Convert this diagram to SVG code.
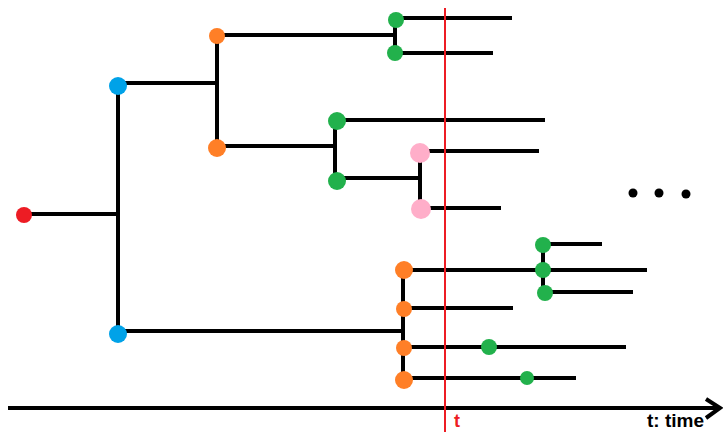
<svg xmlns="http://www.w3.org/2000/svg" width="723" height="432" viewBox="0 0 723 432">
  <style>
    .edge { stroke: #000; stroke-width: 4; fill: none; stroke-linecap: butt; }
    .red { fill: #ed1c24; }
    .blue { fill: #00a2e8; }
    .orange { fill: #ff7f27; }
    .green { fill: #22b14c; }
    .pink { fill: #ffaec9; }
    .lbl { font-family: "Liberation Sans", Arial, sans-serif; font-weight: bold; }
  </style>
  <rect width="723" height="432" fill="#fff"/>

  <!-- branches -->
  <g id="connectors">
    <path class="edge" d="M24 214 H118 M118 85 V334 M118 83 H217 M217 36 V148"/>
    <path class="edge" d="M217 35 H395 M395 20 V53 M396 18 H512 M395 53 H493"/>
    <path class="edge" d="M217 146 H335 M335 121 V181 M337 120 H545 M337 178 H420 M420 153 V209 M420 151 H539 M421 208 H501"/>
    <path class="edge" d="M118 331 H403 M403 270 V380 M404 270 H647 M404 308 H513 M404 347 H626 M404 378 H576"/>
    <path class="edge" d="M543 245 V293 M543 244 H602 M545 292 H633"/>
  </g>

  <!-- time axis -->
  <g id="axis">
    <path class="edge" d="M8 408 H720"/>
    <path class="edge" d="M706 399 L720 408 L706 418" stroke-linejoin="miter"/>
    <text class="lbl" x="647" y="427" font-size="19" fill="#000">t: time</text>
  </g>

  <!-- current time marker -->
  <g id="time-marker">
    <line x1="445" y1="8" x2="445" y2="432" stroke="#ed1c24" stroke-width="2"/>
    <text class="lbl" x="454" y="427" font-size="18" fill="#ed1c24">t</text>
  </g>

  <g id="root"><circle class="red" cx="24" cy="215" r="8"/></g>
  <g id="b1"><circle class="blue" cx="118" cy="86" r="9"/></g>
  <g id="b2"><circle class="blue" cx="118" cy="334" r="9"/></g>
  <g id="o1"><circle class="orange" cx="217" cy="36" r="8"/></g>
  <g id="o2"><circle class="orange" cx="217" cy="148" r="9"/></g>
  <g id="g1"><circle class="green" cx="396" cy="20" r="8"/></g>
  <g id="g2"><circle class="green" cx="395" cy="53" r="8"/></g>
  <g id="g3"><circle class="green" cx="337" cy="121" r="9"/></g>
  <g id="g4"><circle class="green" cx="337" cy="181" r="9"/></g>
  <g id="p1"><circle class="pink" cx="420" cy="153" r="10"/></g>
  <g id="p2"><circle class="pink" cx="421" cy="209" r="10"/></g>
  <g id="o3"><circle class="orange" cx="404" cy="270" r="9"/></g>
  <g id="o4"><circle class="orange" cx="404" cy="309" r="8"/></g>
  <g id="o5"><circle class="orange" cx="404" cy="348" r="8"/></g>
  <g id="o6"><circle class="orange" cx="404" cy="380" r="9"/></g>
  <g id="g5"><circle class="green" cx="543" cy="245" r="8"/></g>
  <g id="g6"><circle class="green" cx="543" cy="270" r="8"/></g>
  <g id="g7"><circle class="green" cx="545" cy="293" r="8"/></g>
  <g id="g8"><circle class="green" cx="489" cy="347" r="8"/></g>
  <g id="g9"><circle class="green" cx="527" cy="378" r="7"/></g>

  <!-- ellipsis -->
  <g id="more">
    <circle cx="633" cy="193" r="4.5"/>
    <circle cx="659" cy="193" r="4.5"/>
    <circle cx="686" cy="194" r="4.5"/>
  </g>
</svg>
